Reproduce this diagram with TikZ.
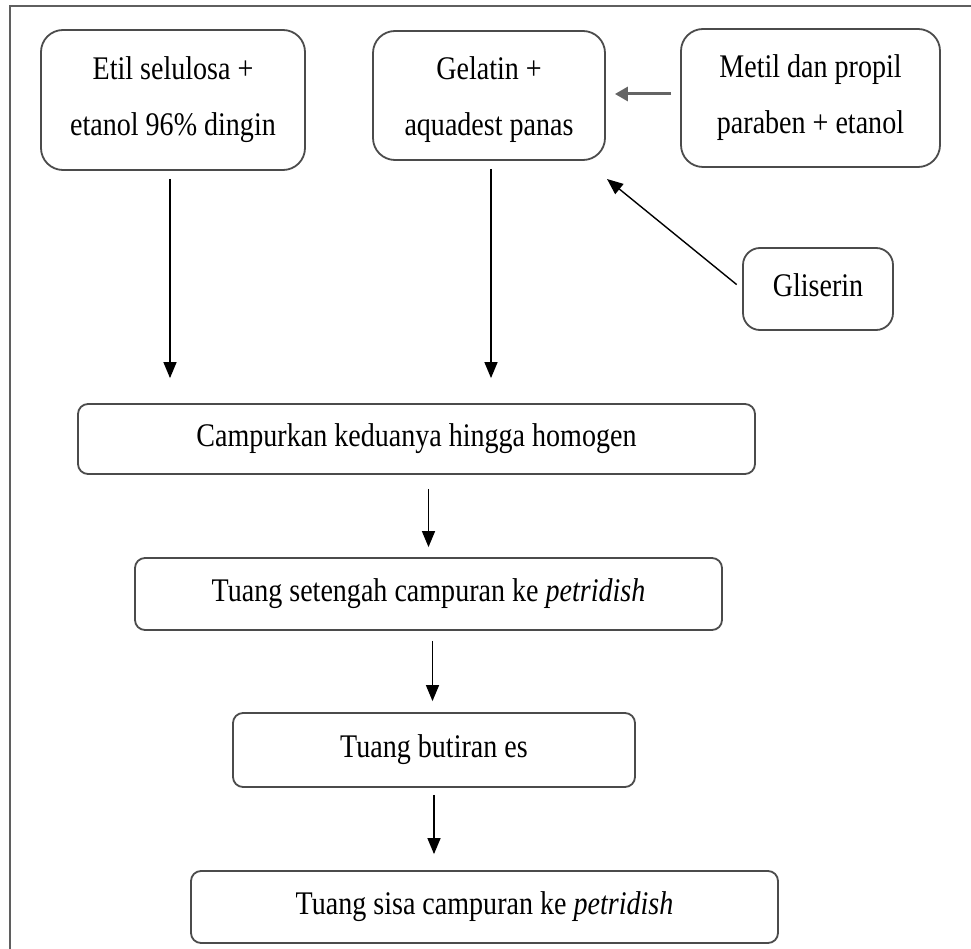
\documentclass[tikz,border=0pt]{standalone}
\usepackage{fontspec}
\setmainfont{Liberation Serif}[FakeStretch=0.85]
\usetikzlibrary{arrows.meta}
\definecolor{boxgray}{RGB}{75,75,75}
\definecolor{framegray}{RGB}{95,95,95}
\definecolor{arrgray}{RGB}{100,100,100}
\begin{document}
\begin{tikzpicture}[x=1pt,y=-1pt,
  every node/.style={font=\fontsize{33}{56}\selectfont},
  box/.style={draw=boxgray, line width=1.8pt, rounded corners=22pt, align=center, inner sep=0pt},
  flatbox/.style={box, rounded corners=10pt, text height=22pt, text depth=7pt},
  arr/.style={-{Triangle[length=16pt,width=13pt]}, line width=1.4pt, black},
  thickarr/.style={-{Triangle[length=13pt,width=14pt]}, line width=3pt, arrgray}]
\useasboundingbox (0,0) rectangle (971,949);
\draw[framegray, line width=1.5pt] (10,980) -- (10,6) -- (990,6);

\node[box, minimum width=264pt, minimum height=140pt] (A) at (173,100) {Etil selulosa +\\etanol 96\% dingin};
\node[box, minimum width=232pt, minimum height=129pt,
  label={[align=center, yshift=-4.5pt]center:{Gelatin +\\aquadest panas}}] (B) at (489,95.5) {};
\node[box, minimum width=259pt, minimum height=138pt] (C) at (810.5,98) {Metil dan propil\\paraben + etanol};
\node[box, rounded corners=17pt, minimum width=150pt, minimum height=82pt, text height=22pt, text depth=7pt] (D) at (818,289) {Gliserin};
\node[flatbox, minimum width=677pt, minimum height=70pt] (E) at (416.5,439) {Campurkan keduanya hingga homogen};
\node[flatbox, minimum width=587pt, minimum height=72pt] (F) at (428.5,594) {Tuang setengah campuran ke \textit{petridish}};
\node[flatbox, minimum width=402pt, minimum height=74pt] (G) at (434,750) {Tuang butiran es};
\node[flatbox, minimum width=587pt, minimum height=72pt] (H) at (484.5,907) {Tuang sisa campuran ke \textit{petridish}};

\coordinate (Bin) at (607,179);

\draw[arr, shorten <=8pt, shorten >=25pt] ([xshift=-3pt]A.south) -- ([xshift=-3pt]A.south |- E.north);
\draw[arr, shorten <=8pt, shorten >=25pt] ([xshift=2pt]B.south) -- ([xshift=2pt]B.south |- E.north);
\draw[thickarr, shorten <=9pt, shorten >=9pt] ([yshift=1.5pt]C.west |- B.east) -- ([yshift=1.5pt]B.east);
\draw[arr, shorten <=7pt] (D.west) -- (Bin);
\draw[arr, shorten <=14pt, shorten >=10pt] (F.north |- E.south) -- (F.north);
\draw[arr, shorten <=10pt, shorten >=11pt] ([xshift=4pt]F.south) -- ([xshift=4pt]F.south |- G.north);
\draw[arr, shorten <=7pt, shorten >=16pt] (G.south) -- (G.south |- H.north);
\end{tikzpicture}
\end{document}
